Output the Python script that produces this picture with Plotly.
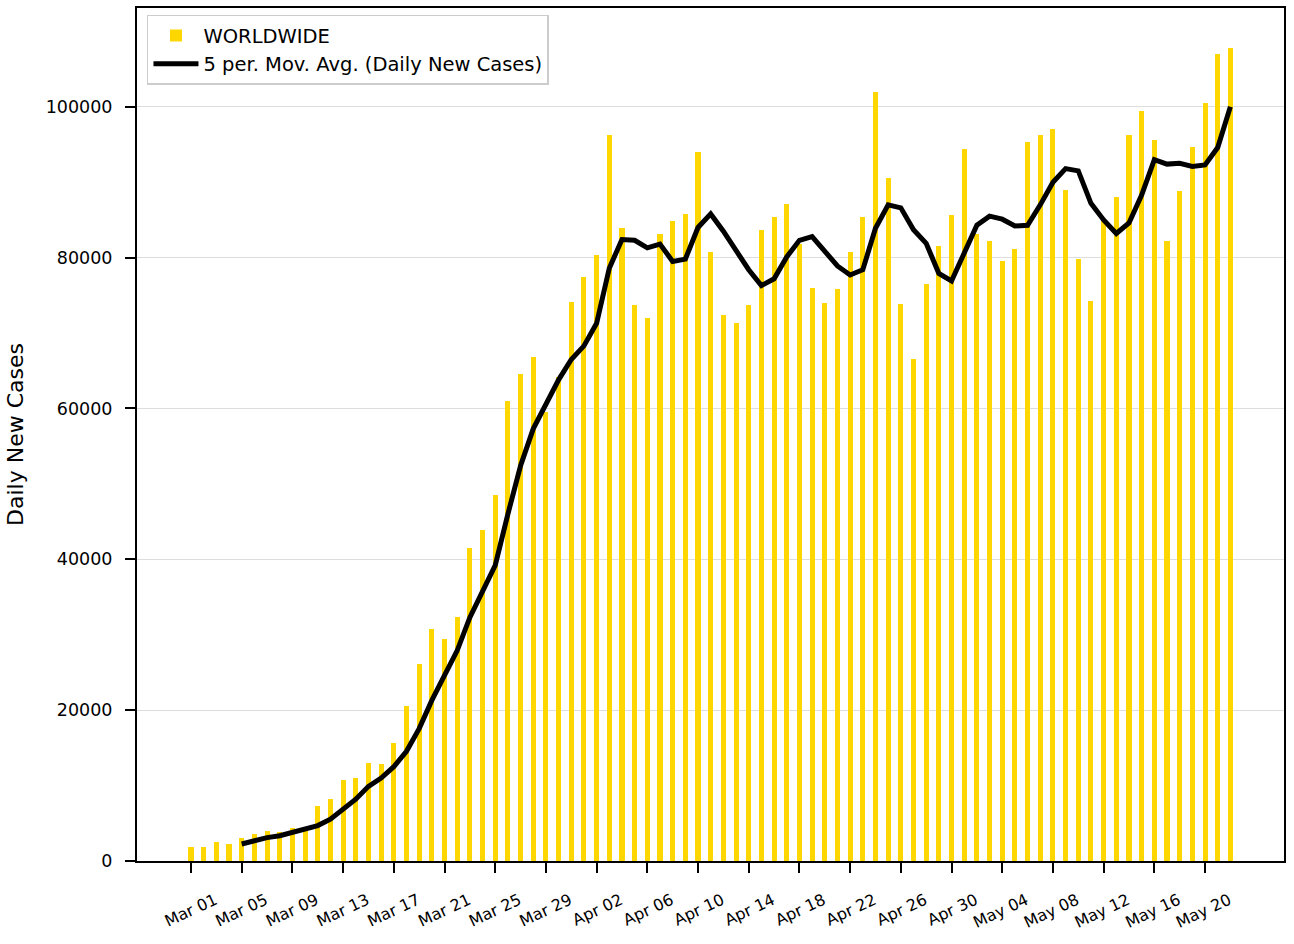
import pandas as pd
import plotly.graph_objects as go

# ---- data ----
start_date = "2020-03-01"
end_date = "2020-05-22"
dates = pd.date_range(start_date, end_date, freq="D")

daily_new_cases = [
    1900, 1800, 2500, 2250, 3000, 3600, 4000, 3900, 4400, 4100,          # Mar 01-10
    7300, 8200, 10800, 11000, 13000, 12800, 15700, 20600, 26100, 30700,  # Mar 11-20
    29400, 32400, 41500, 43900, 48500, 61000, 64600, 66800, 59500, 64200,  # Mar 21-30
    74100,                                                               # Mar 31
    77400, 80400, 96300, 83900, 73700, 72000, 83200, 84800, 85800, 94000,  # Apr 01-10
    80700, 72400, 71300, 73700, 83600, 85400, 87100, 81800, 76000, 74000,  # Apr 11-20
    75900, 80700, 85400, 101900, 90600, 73800, 66600, 76500, 81600, 85600,  # Apr 21-30
    94400, 83200, 82200, 79600, 81200, 95300, 96200, 97100, 89000, 79800,  # May 01-10
    74200, 85000, 88100, 96300, 99400, 95600, 82200, 88900, 94700, 100500,  # May 11-20
    107000, 107800,                                                      # May 21-22
]

ma_start_date = "2020-03-05"
ma_dates = pd.date_range(ma_start_date, end_date, freq="D")
moving_avg = [
    2250, 2700, 3100, 3350, 3800, 4100,                                  # Mar 05-10
    4700, 5550, 6970, 8200, 9900, 11000, 12500, 14550, 17550, 21300,     # Mar 11-20
    24600, 27900, 32300, 35800, 39200, 46000, 52400, 57300, 60500, 63800,  # Mar 21-30
    66500,                                                               # Mar 31
    68300, 71300, 78600, 82400, 82300, 81300, 81800, 79500, 79800, 84000,  # Apr 01-10
    85800, 83500, 80800, 78400, 76300, 77200, 80100, 82300, 82800, 80800,  # Apr 11-20
    78900, 77700, 78400, 83900, 87000, 86600, 83700, 81900, 77900, 76900,  # Apr 21-30
    80800, 84300, 85500, 85100, 84200, 84300, 87000, 90000, 91800, 91500,  # May 01-10
    87200, 85000, 83200, 84600, 88300, 93000, 92400, 92500, 92100, 92300,  # May 11-20
    94600, 100000,                                                       # May 21-22
]

tick_dates = list(dates[::4])
tick_labels = [d.strftime("%b %d") for d in tick_dates]

bar_name = "WORLDWIDE"
line_name = "5 per. Mov. Avg. (Daily New Cases)"
y_title = "Daily New Cases"

DAY_MS = 86400000
FONT = "DejaVu Sans"

fig = go.Figure()
fig.add_trace(go.Bar(
    x=dates, y=daily_new_cases, name=bar_name,
    marker=dict(color="#FFD700", line=dict(width=0)),
    width=0.4 * DAY_MS,
))
fig.add_trace(go.Scatter(
    x=ma_dates, y=moving_avg, name=line_name, mode="lines",
    line=dict(color="black", width=5),
))

x_left = pd.Timestamp(start_date) - pd.Timedelta(days=4.26)
x_right = pd.Timestamp(start_date) + pd.Timedelta(days=86.23)

fig.update_layout(
    width=1294, height=944,
    margin=dict(l=137, r=10, t=6, b=83),
    paper_bgcolor="white", plot_bgcolor="white",
    font=dict(family=FONT, color="black"),
    showlegend=True,
    bargap=0,
    legend=dict(
        x=0.0087, y=0.992, xanchor="left", yanchor="top",
        bgcolor="white", bordercolor="#cccccc", borderwidth=1.5,
        font=dict(family=FONT, size=19.5, color="black"),
        itemwidth=45,
    ),
)
fig.update_xaxes(
    type="date", range=[x_left, x_right],
    tickmode="array", tickvals=tick_dates, ticktext=tick_labels,
    tickangle=-25, tickfont=dict(family=FONT, size=16, color="black"),
    ticklabelshift=24, ticklabelstandoff=12,
    ticks="outside", ticklen=10, tickwidth=1.5, tickcolor="black",
    showline=True, linecolor="black", linewidth=2, mirror=True,
    showgrid=False, zeroline=False,
)
fig.update_yaxes(
    range=[0, 113100], dtick=20000, tickformat="d",
    tickfont=dict(family=FONT, size=17.5, color="black"),
    ticks="outside", ticklen=10, tickwidth=1.5, tickcolor="black",
    ticklabelstandoff=9,
    showline=True, linecolor="black", linewidth=2, mirror=True,
    showgrid=True, gridcolor="#dddddd", gridwidth=1, zeroline=False,
    title=dict(text=y_title, font=dict(family=FONT, size=22, color="black"), standoff=16),
)

fig.write_html(
    "out.html",
    config={"displayModeBar": False},
    post_script="document.body.style.margin='0';document.body.style.overflow='hidden';",
)
